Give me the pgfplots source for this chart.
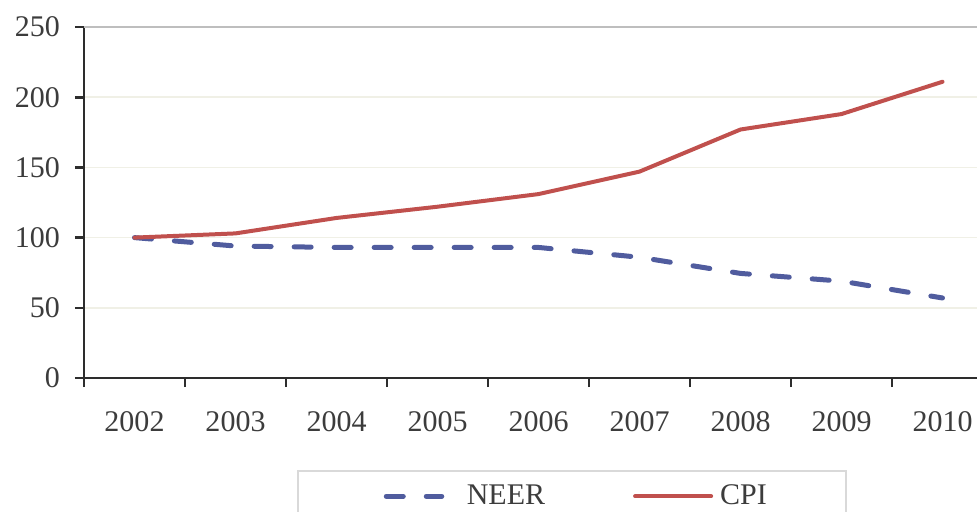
\documentclass[border=0pt]{standalone}
\usepackage{pgfplots}
\pgfplotsset{compat=1.18}
\usepackage{fontspec}
\setmainfont{Liberation Serif}
\definecolor{cpired}{RGB}{192,80,77}
\definecolor{neerblue}{RGB}{80,92,158}
\definecolor{txt}{RGB}{60,60,60}
\definecolor{gridc}{RGB}{240,240,230}
\definecolor{axc}{RGB}{45,45,45}
\definecolor{legc}{RGB}{217,217,217}
\definecolor{topc}{RGB}{190,190,190}
\pgfplotsset{
  neerimg/.style={legend image code/.code={\draw[##1] (1.25pt,0pt) -- (29pt,0pt); \path[draw=none,fill=none] (-3.5pt,0pt) -- (41.5pt,0pt);}},
  cpiimg/.style={legend image code/.code={\draw[##1] (1pt,0pt) -- (39pt,0pt); \path[draw=none,fill=none] (0pt,0pt) -- (43.5pt,0pt);}},
}
\begin{document}
\begin{tikzpicture}
\begin{axis}[
  at={(0pt,0pt)}, anchor=south west,
  scale only axis,
  width=454.5pt, height=175.5pt,
  xmin=-0.5, xmax=8.5,
  ymin=0, ymax=250,
  axis x line*=bottom, axis y line*=left,
  axis line style={draw=axc, line width=1.3pt},
  ytick={0,50,...,250},
  ymajorgrids,
  grid style={draw=gridc, line width=0.8pt},
  xtick={0,...,8},
  xticklabels={2002,2003,2004,2005,2006,2007,2008,2009,2010},
  major x tick style={draw=none},
  minor xtick={-0.5,0.5,1.5,2.5,3.5,4.5,5.5,6.5,7.5,8.5},
  minor tick length=4.5pt,
  major tick length=4.5pt,
  tick align=outside,
  tick style={draw=axc, line width=1.3pt},
  every tick label/.append style={font=\fontsize{15}{18}\selectfont, text=txt},
  /pgf/number format/assume math mode=true,
  xticklabel style={yshift=-8.5pt},
  yticklabel style={xshift=-4pt},
  clip=false,
  legend columns=2,
  legend style={
    at={(0.2343,-0.2621)}, anchor=north west,
    draw=legc, line width=0.8pt,
    inner xsep=39.5pt, inner ysep=7pt,
    font=\fontsize{15}{18}\selectfont, text=txt,
    nodes={inner sep=0pt},
    /tikz/every even column/.append style={column sep=44pt},
  },
]
\addplot[neerblue, line width=2.5pt, line cap=round, line join=round,
  dash pattern=on 8.5pt off 11.5pt, neerimg]
  coordinates {(0,100) (1,94) (2,93) (3,93) (4,93) (5,86) (6,74.5) (7,69) (8,57)};
\addlegendentry{NEER}
\addplot[cpired, line width=2pt, line cap=round, line join=round, cpiimg]
  coordinates {(0,100) (1,103) (2,114) (3,122) (4,131) (5,147) (6,177) (7,188) (8,211)};
\addlegendentry{CPI}
\draw[draw=topc, line width=0.8pt] (rel axis cs:0,1) -- (rel axis cs:1,1);
\end{axis}
\pgfresetboundingbox
\path[use as bounding box] (-42pt,-66.5pt) rectangle (446.5pt,189pt);
\end{tikzpicture}
\end{document}
